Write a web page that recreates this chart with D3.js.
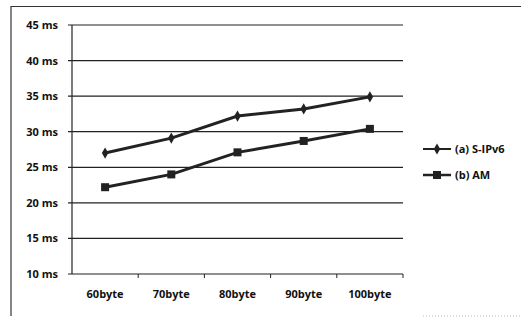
<!DOCTYPE html>
<html><head><meta charset="utf-8">
<script src="https://cdn.jsdelivr.net/npm/d3@7"></script>
<style>body{margin:0;background:#fff}svg{display:block}text{font-family:"Open Sans","Liberation Sans",sans-serif;font-weight:bold;fill:#111}</style>
</head><body>
<script>
const categories = ["60byte","70byte","80byte","90byte","100byte"];
const sipv6 = [27.0, 29.1, 32.2, 33.2, 34.9];
const am = [22.2, 24.0, 27.1, 28.7, 30.4];
const yTicks = [10,15,20,25,30,35,40,45];
const seriesNames = ["(a) S-IPv6","(b) AM"];

const W=522,H=317;
const svg=d3.select("body").append("svg").attr("width",W).attr("height",H);
// frame
svg.append("line").attr("x1",11).attr("x2",521).attr("y1",6.5).attr("y2",6.5).attr("stroke","#333").attr("stroke-width",1.2);
svg.append("line").attr("x1",11).attr("x2",11).attr("y1",6).attr("y2",316).attr("stroke","#333").attr("stroke-width",1.2);
svg.append("line").attr("x1",423).attr("x2",521).attr("y1",316).attr("y2",316).attr("stroke","#bbb").attr("stroke-dasharray","1,2");

const x=d3.scaleBand().domain(categories).range([72,403]);
const y=d3.scaleLinear().domain([10,45]).range([274,25]);

const g=svg.append("g");
g.selectAll(".grid").data(yTicks).join("line").attr("x1",68).attr("x2",403)
 .attr("y1",d=>y(d)).attr("y2",d=>y(d)).attr("stroke","#222").attr("stroke-width",1.2);
g.append("line").attr("x1",72).attr("x2",72).attr("y1",y(45)).attr("y2",y(10)).attr("stroke","#222").attr("stroke-width",1.2);
g.selectAll(".xt").data(categories).join("line").attr("x1",d=>x(d)+x.bandwidth()).attr("x2",d=>x(d)+x.bandwidth())
 .attr("y1",y(10)).attr("y2",y(10)+4).attr("stroke","#222");
g.selectAll(".yl").data(yTicks).join("text").attr("x",58).attr("y",d=>y(d)+4).attr("text-anchor","end")
 .style("font-size","11px").text(d=>d+" ms");
g.selectAll(".xl").data(categories).join("text").attr("x",d=>x(d)+x.bandwidth()/2).attr("y",298).attr("text-anchor","middle")
 .style("font-size","11px").text(d=>d);

const line=d3.line().x((d,i)=>x(categories[i])+x.bandwidth()/2).y(d=>y(d));
const series=[sipv6,am];
series.forEach((s,k)=>{
  g.append("path").datum(s).attr("d",line).attr("fill","none").attr("stroke","#222").attr("stroke-width",3);
  if(k===0){
    g.selectAll(".m0").data(s).join("path").attr("transform",(d,i)=>`translate(${x(categories[i])+x.bandwidth()/2},${y(d)})`)
     .attr("d",d3.symbol(d3.symbolDiamond,36)).attr("fill","#222");
  } else {
    g.selectAll(".m1").data(s).join("rect").attr("x",(d,i)=>x(categories[i])+x.bandwidth()/2-4).attr("y",d=>y(d)-4)
     .attr("width",8).attr("height",8).attr("fill","#222");
  }
});
const ly=[149,175];
seriesNames.forEach((n,k)=>{
  svg.append("line").attr("x1",423).attr("x2",451).attr("y1",ly[k]).attr("y2",ly[k]).attr("stroke","#222").attr("stroke-width",k?2.5:2);
  if(k===0) svg.append("path").attr("transform",`translate(437,${ly[k]})`).attr("d",d3.symbol(d3.symbolDiamond,36)).attr("fill","#222");
  else svg.append("rect").attr("x",433).attr("y",ly[k]-4).attr("width",8).attr("height",8).attr("fill","#222");
  svg.append("text").attr("x",455).attr("y",ly[k]+4).style("font-size","11px").text(n);
});
</script>
</body></html>
